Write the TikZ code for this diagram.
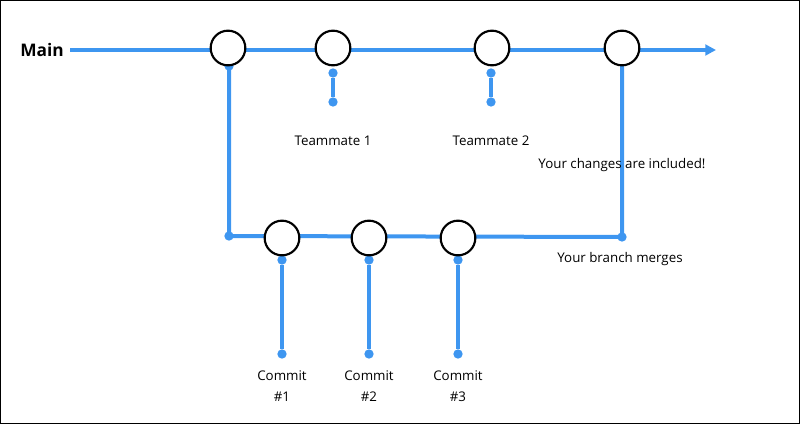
\documentclass[tikz,border=0pt]{standalone}
\usepackage{fontspec}
\setmainfont{Open Sans}
\usetikzlibrary{arrows.meta}
\definecolor{gitblue}{RGB}{62,150,240}
\tikzset{
  flow/.style={draw=gitblue, line width=3pt},
  commit/.style={circle, draw=black, fill=white, line width=1.6pt, minimum size=26pt, inner sep=0pt},
  pin/.style={circle, fill=gitblue, inner sep=0pt, minimum size=7pt},
  lbl/.style={font=\fontsize{10}{16}\selectfont, align=center}
}
\begin{document}
\begin{tikzpicture}[x=0.75pt, y=-0.75pt]
  \draw[black, line width=0.6pt] (0.5,0.5) rectangle (799.5,423.5);
  \useasboundingbox (0,0) rectangle (800,424);

  % main line
  \node[font=\fontsize{13}{15}\selectfont\bfseries] (main) at (42,50) {Main};
  \coordinate (mainstart) at (70,50);
  \coordinate (mainend) at (716,50);
  \draw[flow, -{Triangle[length=8pt, width=8pt]}] (mainstart) -- (mainend);

  % branch path
  \coordinate (split) at (229,66);
  \coordinate (corner) at (229,236);
  \node[pin] (mergept) at (622,237) {};
  \node[pin] (splitpin) at (229,66) {};
  \node[pin] (cornerpin) at (229,236) {};
  \draw[flow] (split) -- (corner) -- (mergept.center) -- (622,60);

  % main commits
  \node[commit] (m1) at (228,48) {};
  \node[commit] (m2) at (333,48) {};
  \node[commit] (m3) at (492,48) {};
  \node[commit] (m4) at (622,48) {};

  % teammates
  \foreach \x/\n in {333/1, 491/2}{
    \node[pin] (ttop\n) at (\x,73) {};
    \node[pin] (tbot\n) at (\x,102) {};
    \draw[flow] (ttop\n) -- (tbot\n);
    \node[lbl] (team\n) at (\x,141) {Teammate \n};
  }

  % branch commits
  \foreach \x/\n in {282/1, 369/2, 458/3}{
    \node[pin] (ctop\n) at (\x,260) {};
    \node[pin] (cbot\n) at (\x,354) {};
    \draw[flow] (ctop\n) -- (cbot\n);
    \node[commit] (b\n) at (\x,238) {};
    \node[lbl] (clbl\n) at (\x,386) {Commit\\\#\n};
  }

  \node[lbl] (included) at (622,165) {Your changes are included!};
  \node[lbl] (merges) at (620,259) {Your branch merges};
\end{tikzpicture}
\end{document}
